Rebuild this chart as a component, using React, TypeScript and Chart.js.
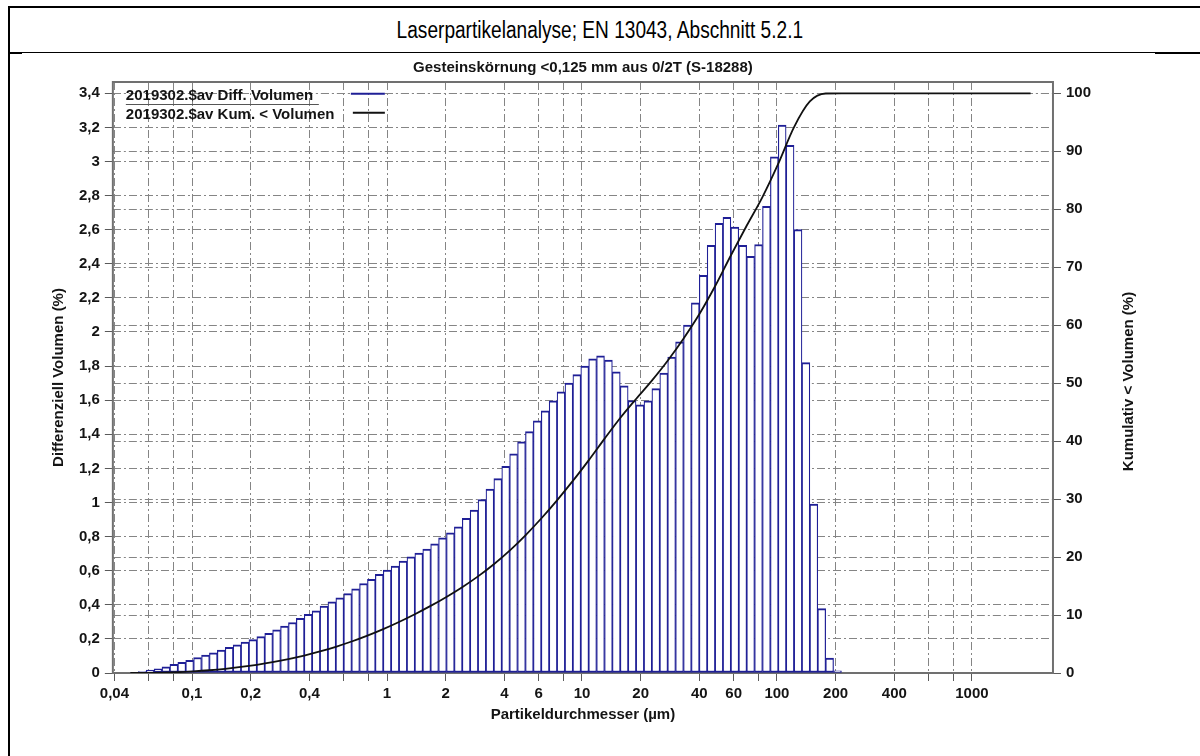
import React, { useEffect, useRef } from "react";
import { Chart, registerables } from "chart.js";

Chart.register(...registerables);

const PAGE_TITLE = "Laserpartikelanalyse; EN 13043, Abschnitt 5.2.1";
const CHART_TITLE = "Gesteinskörnung <0,125 mm aus 0/2T (S-18288)";
const X_TITLE = "Partikeldurchmesser (µm)";
const Y_TITLE = "Differenziell Volumen (%)";
const Y1_TITLE = "Kumulativ < Volumen (%)";
const LEGEND_DIFF = "2019302.$av Diff. Volumen";
const LEGEND_CUM = "2019302.$av Kum. < Volumen";

// geometric bin centres (µm)
const BIN_CENTERS = [
  0.05059, 0.05553, 0.06097, 0.06693, 0.07348, 0.08066, 0.08856, 0.09721, 0.1067, 0.1172,
  0.1286, 0.1412, 0.155, 0.1702, 0.1868, 0.2051, 0.2252, 0.2472, 0.2714, 0.2979,
  0.3271, 0.359, 0.3941, 0.4327, 0.475, 0.5215, 0.5725, 0.6285, 0.69, 0.7574,
  0.8315, 0.9128, 1.002, 1.1, 1.208, 1.326, 1.455, 1.598, 1.754, 1.926,
  2.114, 2.321, 2.548, 2.797, 3.07, 3.371, 3.7, 4.062, 4.459, 4.896,
  5.374, 5.9, 6.477, 7.111, 7.806, 8.57, 9.408, 10.33, 11.34, 12.45,
  13.67, 15.0, 16.47, 18.08, 19.85, 21.79, 23.92, 26.26, 28.83, 31.65,
  34.74, 38.14, 41.87, 45.96, 50.46, 55.39, 60.81, 66.76, 73.29, 80.46,
  88.33, 96.97, 106.4, 116.8, 128.3, 140.8, 154.6, 169.7, 186.3, 204.5,
];

// differential volume (%)
const DIFF_VOLUME = [
  0.003, 0.008, 0.017, 0.024, 0.036, 0.051, 0.062, 0.075, 0.091, 0.105,
  0.119, 0.134, 0.15, 0.165, 0.181, 0.196, 0.213, 0.232, 0.253, 0.275,
  0.296, 0.32, 0.344, 0.365, 0.392, 0.418, 0.441, 0.466, 0.493, 0.525,
  0.549, 0.578, 0.603, 0.627, 0.656, 0.682, 0.703, 0.727, 0.758, 0.793,
  0.822, 0.858, 0.907, 0.956, 1.017, 1.078, 1.14, 1.212, 1.286, 1.356,
  1.416, 1.479, 1.537, 1.596, 1.649, 1.7, 1.75, 1.8, 1.843, 1.86,
  1.836, 1.767, 1.684, 1.598, 1.573, 1.596, 1.668, 1.759, 1.853, 1.942,
  2.04, 2.171, 2.332, 2.508, 2.637, 2.673, 2.616, 2.508, 2.444, 2.513,
  2.737, 3.027, 3.214, 3.095, 2.6, 1.82, 0.99, 0.378, 0.087, 0.012,
];

// cumulative undersize curve (µm, %)
const CUM_SIZES = [
  0.04828, 0.05818, 0.07013, 0.08451, 0.1018, 0.1227, 0.1479, 0.1782, 0.2148, 0.2589,
  0.312, 0.376, 0.4531, 0.5461, 0.6582, 0.7934, 0.9562, 1.152, 1.389, 1.674,
  2.017, 2.431, 2.93, 3.531, 4.256, 5.129, 6.181, 7.448, 8.977, 10.82,
  13.04, 15.71, 18.94, 22.83, 27.51, 33.15, 39.95, 48.15, 58.01, 69.92,
  84.26, 101.6, 122.4, 147.5, 177.8, 214.2, 2000,
];
const CUM_VOLUME = [
  0, 0.011, 0.052, 0.139, 0.276, 0.472, 0.725, 1.04, 1.417, 1.862,
  2.39, 3.006, 3.715, 4.525, 5.432, 6.45, 7.577, 8.807, 10.145, 11.575,
  13.126, 14.806, 16.669, 18.764, 21.116, 23.758, 26.653, 29.786, 33.135, 36.685,
  40.388, 43.991, 47.273, 50.442, 53.869, 57.664, 61.875, 66.715, 72.025, 77.149,
  82.106, 87.87, 94.179, 98.599, 99.967, 100, 100,
];

const X_TICKS = [0.04, 0.06, 0.08, 0.1, 0.2, 0.4, 0.6, 0.8, 1, 2, 4, 6, 8, 10, 20, 40, 60, 80, 100, 200, 400, 600, 800, 1000];
const X_TICK_LABELS = ["0,04", "", "", "0,1", "0,2", "0,4", "", "", "1", "2", "4", "6", "", "10", "20", "40", "60", "", "100", "200", "400", "", "", "1000"];
const Y_TICKS = [0, 0.2, 0.4, 0.6, 0.8, 1, 1.2, 1.4, 1.6, 1.8, 2, 2.2, 2.4, 2.6, 2.8, 3, 3.2, 3.4];
const Y_TICK_LABELS = ["0", "0,2", "0,4", "0,6", "0,8", "1", "1,2", "1,4", "1,6", "1,8", "2", "2,2", "2,4", "2,6", "2,8", "3", "3,2", "3,4"];
const Y1_TICKS = [0, 10, 20, 30, 40, 50, 60, 70, 80, 90, 100];

const X_MIN = 0.03925;
const X_MAX = 2605;
const Y_MAX = 3.4662;
const Y1_MAX = 101.95;

const FONT = '"Liberation Sans", Arial, Helvetica, sans-serif';
const BAR_BLUE = "#1f1f96";
const GRID = "#858585";
const DASH = [8, 3, 2, 3];
const TEXT = "#141414";

export default function App() {
  const ref = useRef<HTMLCanvasElement>(null);

  useEffect(() => {
    const canvas = ref.current;
    if (!canvas) return;
    Chart.defaults.font.family = FONT;

    const framePlugin = {
      id: "frame",
      beforeDatasetsDraw(chart: any) {
        const { ctx, chartArea: a } = chart;
        ctx.save();
        ctx.strokeStyle = "#707070";
        ctx.lineWidth = 2;
        ctx.strokeRect(a.left, a.top, a.right - a.left, a.bottom - a.top);
        ctx.restore();
      },
    };

    const legendPlugin = {
      id: "innerLegend",
      afterDatasetsDraw(chart: any) {
        const { ctx, chartArea: a } = chart;
        const x = a.left + 13;
        ctx.save();
        ctx.font = `bold 15px ${FONT}`;
        ctx.fillStyle = TEXT;
        ctx.textAlign = "left";
        ctx.textBaseline = "middle";
        ctx.fillText(LEGEND_DIFF, x, a.top + 14);
        ctx.fillText(LEGEND_CUM, x, a.top + 32.5);
        ctx.strokeStyle = "#555";
        ctx.lineWidth = 1;
        ctx.beginPath();
        ctx.moveTo(x, a.top + 22.5);
        ctx.lineTo(x + 193, a.top + 22.5);
        ctx.stroke();
        ctx.strokeStyle = BAR_BLUE;
        ctx.lineWidth = 2;
        ctx.beginPath();
        ctx.moveTo(a.left + 238, a.top + 11.7);
        ctx.lineTo(a.left + 272, a.top + 11.7);
        ctx.stroke();
        ctx.strokeStyle = "#111";
        ctx.beginPath();
        ctx.moveTo(a.left + 240, a.top + 30.7);
        ctx.lineTo(a.left + 272, a.top + 30.7);
        ctx.stroke();
        ctx.restore();
      },
    };

    const rightTitlePlugin = {
      id: "rightTitle",
      afterDraw(chart: any) {
        const { ctx, chartArea: a } = chart;
        ctx.save();
        ctx.translate(a.right + 76, (a.top + a.bottom) / 2 + 4);
        ctx.rotate(-Math.PI / 2);
        ctx.font = `bold 15px ${FONT}`;
        ctx.fillStyle = TEXT;
        ctx.textAlign = "center";
        ctx.textBaseline = "middle";
        ctx.fillText(Y1_TITLE, 0, 0);
        ctx.restore();
      },
    };

    const tickFont = { size: 15, weight: "bold" as const };
    const gridCommon = {
      color: GRID,
      lineWidth: 1,
      tickLength: 8,
      tickColor: "#5a5a5a",
      tickWidth: 1,
      offset: false,
    };

    const chart = new Chart(canvas, {
      type: "bar",
      data: {
        datasets: [
          {
            type: "line",
            label: LEGEND_CUM,
            data: CUM_SIZES.map((x, i) => ({ x, y: CUM_VOLUME[i] })),
            yAxisID: "y1",
            borderColor: "#111",
            borderWidth: 1.8,
            pointRadius: 0,
            cubicInterpolationMode: "monotone",
            fill: false,
            order: 0,
          } as any,
          {
            type: "bar",
            label: LEGEND_DIFF,
            data: BIN_CENTERS.map((x, i) => ({ x, y: DIFF_VOLUME[i] })),
            yAxisID: "y",
            backgroundColor: "#ffffff",
            borderColor: BAR_BLUE,
            borderWidth: { top: 2, left: 1.2, right: 1.2, bottom: 2 },
            borderSkipped: false,
            barPercentage: 1,
            categoryPercentage: 1,
            order: 1,
          } as any,
        ],
      },
      options: {
        animation: false,
        responsive: false,
        maintainAspectRatio: false,
        layout: { padding: { left: 45, right: 104, top: 0, bottom: 34 } },
        plugins: {
          legend: { display: false },
          tooltip: { enabled: false },
          title: {
            display: true,
            text: CHART_TITLE,
            fullSize: false,
            color: TEXT,
            font: { size: 15, weight: "bold" },
            padding: { top: 7, bottom: 5 },
          },
        },
        scales: {
          x: {
            type: "logarithmic",
            min: X_MIN,
            max: X_MAX,
            offset: false,
            grid: gridCommon,
            border: { display: false, dash: DASH },
            afterBuildTicks: (s: any) => {
              s.ticks = X_TICKS.map((v) => ({ value: v }));
            },
            ticks: {
              autoSkip: false,
              maxRotation: 0,
              minRotation: 0,
              padding: 4,
              color: TEXT,
              font: tickFont,
              callback: (_v: any, i: number) => X_TICK_LABELS[i],
            },
            title: {
              display: true,
              text: X_TITLE,
              color: TEXT,
              font: { size: 15, weight: "bold", lineHeight: 1 },
              padding: { top: 0, bottom: 0 },
            },
          },
          y: {
            type: "linear",
            position: "left",
            min: 0,
            max: Y_MAX,
            grid: gridCommon,
            border: { display: false, dash: DASH },
            afterBuildTicks: (s: any) => {
              s.ticks = Y_TICKS.map((v) => ({ value: v }));
            },
            ticks: {
              padding: 5,
              color: TEXT,
              font: tickFont,
              callback: (_v: any, i: number) => Y_TICK_LABELS[i],
            },
            title: {
              display: true,
              text: Y_TITLE,
              color: TEXT,
              font: { size: 15, weight: "bold" },
              padding: { top: 5, bottom: 6 },
            },
          },
          y1: {
            type: "linear",
            position: "right",
            min: 0,
            max: Y1_MAX,
            grid: gridCommon,
            border: { display: false, dash: DASH },
            afterBuildTicks: (s: any) => {
              s.ticks = Y1_TICKS.map((v) => ({ value: v }));
            },
            ticks: {
              padding: 5,
              color: TEXT,
              font: tickFont,
              callback: (v: any) => String(v),
            },
          },
        },
      } as any,
      plugins: [framePlugin, legendPlugin, rightTitlePlugin],
    });

    return () => chart.destroy();
  }, []);

  return (
    <div
      style={{
        position: "absolute",
        left: 0,
        top: 0,
        width: 1200,
        height: 756,
        overflow: "hidden",
        background: "#fff",
      }}
    >
      <div style={{ position: "absolute", left: 8, top: 6, width: 1192, height: 2, background: "#000" }} />
      <div style={{ position: "absolute", left: 8, top: 6, width: 2, height: 750, background: "#000" }} />
      <div style={{ position: "absolute", left: 10, top: 52, width: 1190, height: 1, background: "#000" }} />
      <div style={{ position: "absolute", left: 10, top: 52, width: 12, height: 2, background: "#000" }} />
      <div style={{ position: "absolute", left: 1155, top: 52, width: 45, height: 2, background: "#000" }} />
      <div
        style={{
          position: "absolute",
          left: 0,
          top: 8,
          width: 1200,
          height: 44,
          display: "flex",
          alignItems: "center",
          justifyContent: "center",
          color: "#000",
        }}
      >
        <span
          style={{
            display: "inline-block",
            font: '23px "Liberation Sans Narrow", "Liberation Sans", Arial, sans-serif',
            transform: "scaleX(0.83)",
            whiteSpace: "nowrap",
          }}
        >
          {PAGE_TITLE}
        </span>
      </div>
      <canvas
        ref={ref}
        width={1200}
        height={704}
        style={{ position: "absolute", left: 0, top: 52, width: 1200, height: 704 }}
      />
    </div>
  );
}
